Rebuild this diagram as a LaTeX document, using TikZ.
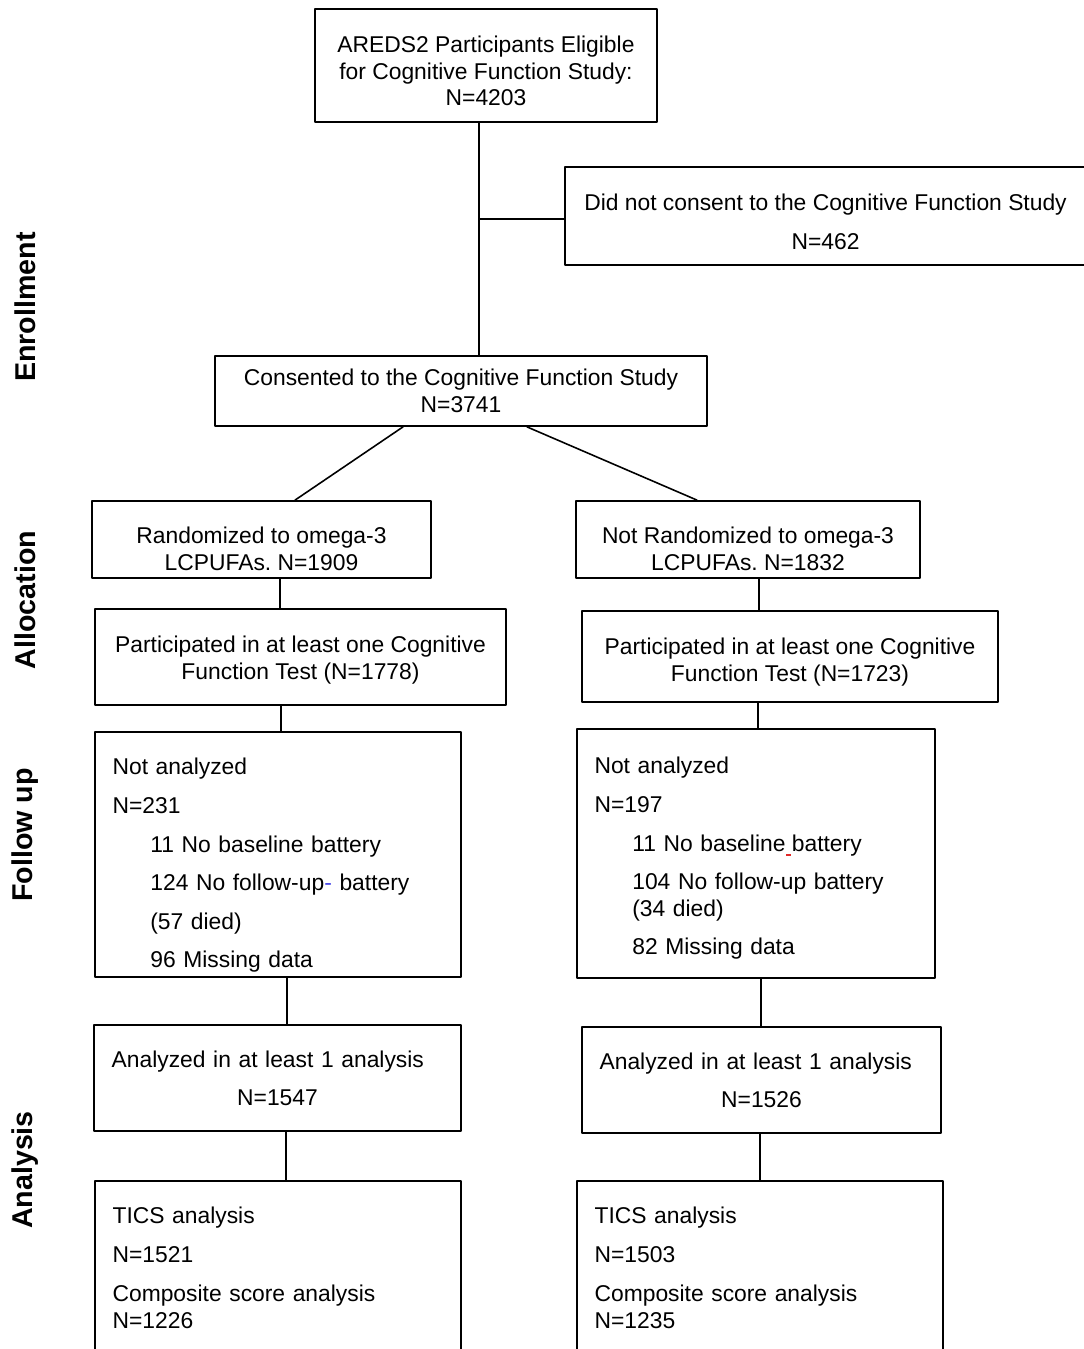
\documentclass[tikz,border=0pt]{standalone}
\usepackage{fontspec}
\setmainfont{Liberation Sans}
\usetikzlibrary{positioning}
\frenchspacing
\definecolor{markblue}{RGB}{70,70,230}
\definecolor{markred}{RGB}{225,40,40}
\tikzset{
	box/.style 2 args={draw, line width=1pt, minimum width=#1*0.02cm, minimum height=#2*0.02cm, inner sep=0pt, align=center},
	lbox/.style n args={3}{draw, line width=1pt, minimum width=#1*0.02cm, minimum height=#2*0.02cm, inner xsep=9.6pt, inner ysep=0pt, text width=#3pt, align=left},
	phase/.style={rotate=90, font=\fontsize{16.3}{19}\selectfont\bfseries},
	link/.style={line width=0.9pt},
}
\newcommand{\ind}{\hspace*{21.5pt}}
\newcommand{\tdown}[1]{\rule{0pt}{\dimexpr9.4pt+#1pt\relax}}
\begin{document}
\begin{tikzpicture}[x=0.02cm, y=-0.02cm, font=\fontsize{13}{15.3}\selectfont, line join=round, line cap=round]
	\useasboundingbox (0,0) rectangle (1083,1349);
	\foreach \y/\t/\n in {307/Enrollment/enrol, 600/Allocation/alloc, 835/Follow up/follow, 1170/Analysis/anal}
	\node[phase] (\n) at (25,\y) {\t};
	\node[box={342}{113}] (elig) at (486,65.5) {\tdown{6.2}AREDS2 Participants Eligible\\for Cognitive Function Study:\\N=4203};
	\node[box={521}{98}] (nocons) at (825.5,216) {\tdown{6.8}Did not consent to the Cognitive Function Study\\[6.5pt]N=462};
	\node[box={492}{70}] (cons) at (461,391) {Consented to the Cognitive Function Study\\N=3741};
	\node[box={339}{77}] (rand) at (261.5,539.5) {\tdown{10.5}Randomized to omega-3\\LCPUFAs. N=1909};
	\node[box={344}{77}] (nrand) at (748,539.5) {\tdown{10.5}Not Randomized to omega-3\\LCPUFAs. N=1832};
	\node[box={411}{96}] (partL) at (300.5,657) {\tdown{3.4}Participated in at least one Cognitive\\Function Test (N=1778)};
	\node[box={416}{91}] (partR) at (790,656.5) {\tdown{6.8}Participated in at least one Cognitive\\Function Test (N=1723)};
	\node[lbox={366}{245}{188.3}] (naL) at (278,854.5) {\tdown{12.5}Not analyzed\\[6.5pt]N=231\\[7pt]\ind 11 No baseline battery\\[6.7pt]\ind 124 No follow-up{\color{markblue}-} battery\\[6.7pt]\ind (57 died)\\[6.5pt]\ind 96 Missing data};
	\node[lbox={358}{249}{183.8}] (naR) at (756,853.5) {\tdown{5.7}Not analyzed\\[6.5pt]N=197\\[7pt]\ind 11 No baseline\makebox[0.278em]{\color{markred}\rule[-2.5pt]{3pt}{0.8pt}}battery\\[6.5pt]\ind 104 No follow-up battery\\\ind (34 died)\\[6.5pt]\ind 82 Missing data};
	\node[lbox={367}{106}{188.8}] (anL) at (277.5,1078) {Analyzed in at least 1 analysis\\[6.5pt]\makebox[188.8pt]{N=1547}};
	\node[lbox={359}{106}{184.3}] (anR) at (761.5,1080) {Analyzed in at least 1 analysis\\[6.5pt]\makebox[184.3pt]{N=1526}};
	\node[lbox={366}{174}{188.3}] (ticsL) at (278,1268) {TICS analysis\\[6.5pt]N=1521\\[7pt]Composite score analysis\\N=1226};
	\node[lbox={366}{174}{188.3}] (ticsR) at (760,1268) {TICS analysis\\[6.5pt]N=1503\\[7pt]Composite score analysis\\N=1235};
	\coordinate (split) at (479,219);
	\draw[link] (elig.south -| split) -- (cons.north -| split);
	\draw[link] (split) -- (split -| nocons.west);
	\draw[link] ([xshift=-58*0.02cm]cons.south) -- ([xshift=33.5*0.02cm]rand.north);
	\draw[link] ([xshift=66*0.02cm]cons.south) -- ([xshift=-51*0.02cm]nrand.north);
	\foreach \a/\b/\x in {rand/partL/280, partL/naL/281, naL/anL/287, anL/ticsL/286, nrand/partR/759, partR/naR/758, naR/anR/761, anR/ticsR/760}
	\draw[link] (\a.south -| \x,0) -- (\b.north -| \x,0);
\end{tikzpicture}
\end{document}
